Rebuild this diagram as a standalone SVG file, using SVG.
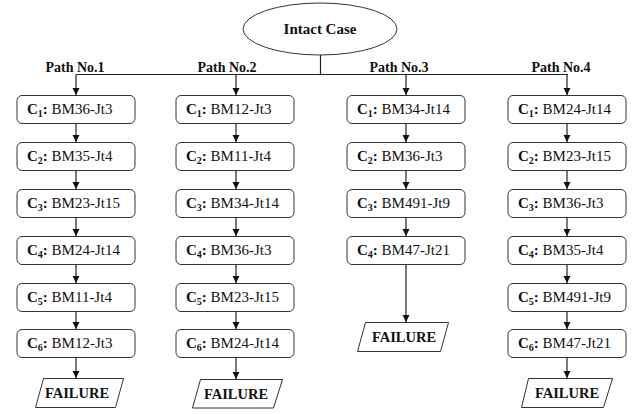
<svg xmlns="http://www.w3.org/2000/svg" width="636" height="414" viewBox="0 0 636 414" font-family="'Liberation Serif', 'Times New Roman', Times, 'DejaVu Serif', serif">
<style>
.box{fill:#fff;stroke:#333;stroke-width:1}
.fail{fill:#fff;stroke:#333;stroke-width:1}
.ln{stroke:#222;stroke-width:1.2;fill:none}
text{font-family:'Liberation Serif','Times New Roman',Times,'DejaVu Serif',serif}
.t{font-size:15px;fill:#111}
.b{font-weight:bold}
.sub{font-size:10px;font-weight:bold}
.lbl{font-size:14px;font-weight:bold;fill:#111}
.ft{font-size:14.5px;font-weight:bold;fill:#111}
</style>
<defs>
<marker id="ah" markerUnits="userSpaceOnUse" markerWidth="7" markerHeight="8" refX="7" refY="3.5" orient="auto">
<path d="M0,0 L7,3.5 L0,7 z" fill="#111"/>
</marker>
</defs>
<rect width="636" height="414" fill="#fff"/>
<g id="intact">
<ellipse cx="320" cy="29" rx="77" ry="26" fill="#fff" stroke="#333" stroke-width="1"/>
<text x="320" y="34" text-anchor="middle" class="t b" font-size="16">Intact Case</text>
</g>
<g id="labels">
<text x="75" y="72" text-anchor="middle" class="lbl">Path No.1</text>
<text x="227" y="72" text-anchor="middle" class="lbl">Path No.2</text>
<text x="399" y="72" text-anchor="middle" class="lbl">Path No.3</text>
<text x="561" y="72" text-anchor="middle" class="lbl">Path No.4</text>
</g>
<g id="connectors">
<path class="ln" d="M320.5,55 V74.5 M76,74.5 H568"/>
<path class="ln" marker-end="url(#ah)" d="M76,74.5 V95"/>
<path class="ln" marker-end="url(#ah)" d="M236,74.5 V95"/>
<path class="ln" marker-end="url(#ah)" d="M406,74.5 V95"/>
<path class="ln" marker-end="url(#ah)" d="M567,74.5 V95"/>
<path class="ln" marker-end="url(#ah)" d="M76,123 V142"/>
<path class="ln" marker-end="url(#ah)" d="M76,171 V189"/>
<path class="ln" marker-end="url(#ah)" d="M76,218 V236"/>
<path class="ln" marker-end="url(#ah)" d="M76,265 V283"/>
<path class="ln" marker-end="url(#ah)" d="M76,312 V329"/>
<path class="ln" marker-end="url(#ah)" d="M76,358 V378"/>
<path class="ln" marker-end="url(#ah)" d="M236,123 V142"/>
<path class="ln" marker-end="url(#ah)" d="M236,171 V189"/>
<path class="ln" marker-end="url(#ah)" d="M236,218 V236"/>
<path class="ln" marker-end="url(#ah)" d="M236,265 V283"/>
<path class="ln" marker-end="url(#ah)" d="M236,312 V329"/>
<path class="ln" marker-end="url(#ah)" d="M236,358 V379"/>
<path class="ln" marker-end="url(#ah)" d="M406,123 V142"/>
<path class="ln" marker-end="url(#ah)" d="M406,171 V189"/>
<path class="ln" marker-end="url(#ah)" d="M406,218 V236"/>
<path class="ln" marker-end="url(#ah)" d="M406,265 V322"/>
<path class="ln" marker-end="url(#ah)" d="M567,123 V142"/>
<path class="ln" marker-end="url(#ah)" d="M567,171 V189"/>
<path class="ln" marker-end="url(#ah)" d="M567,218 V236"/>
<path class="ln" marker-end="url(#ah)" d="M567,265 V283"/>
<path class="ln" marker-end="url(#ah)" d="M567,312 V329"/>
<path class="ln" marker-end="url(#ah)" d="M567,358 V378"/>
</g>
<g id="p1c1"><rect class="box" x="17" y="95.5" width="118" height="28" rx="5"/><text x="27" y="114" class="t"><tspan class="b">C</tspan><tspan class="sub" dy="3">1</tspan><tspan class="b" dy="-3">:</tspan> BM36-Jt3</text></g>
<g id="p1c2"><rect class="box" x="17" y="142.5" width="118" height="28" rx="5"/><text x="27" y="161" class="t"><tspan class="b">C</tspan><tspan class="sub" dy="3">2</tspan><tspan class="b" dy="-3">:</tspan> BM35-Jt4</text></g>
<g id="p1c3"><rect class="box" x="17" y="189.5" width="118" height="28" rx="5"/><text x="27" y="208" class="t"><tspan class="b">C</tspan><tspan class="sub" dy="3">3</tspan><tspan class="b" dy="-3">:</tspan> BM23-Jt15</text></g>
<g id="p1c4"><rect class="box" x="17" y="236.5" width="118" height="28" rx="5"/><text x="27" y="255" class="t"><tspan class="b">C</tspan><tspan class="sub" dy="3">4</tspan><tspan class="b" dy="-3">:</tspan> BM24-Jt14</text></g>
<g id="p1c5"><rect class="box" x="17" y="283.5" width="118" height="28" rx="5"/><text x="27" y="302" class="t"><tspan class="b">C</tspan><tspan class="sub" dy="3">5</tspan><tspan class="b" dy="-3">:</tspan> BM11-Jt4</text></g>
<g id="p1c6"><rect class="box" x="17" y="329.5" width="118" height="28" rx="5"/><text x="27" y="348" class="t"><tspan class="b">C</tspan><tspan class="sub" dy="3">6</tspan><tspan class="b" dy="-3">:</tspan> BM12-Jt3</text></g>
<g id="p1f"><path class="fail" d="M43.5,378.5 H123.5 L115.5,407.5 H35.5 Z"/><text x="77" y="398" text-anchor="middle" class="ft">FAILURE</text></g>
<g id="p2c1"><rect class="box" x="176" y="95.5" width="118" height="28" rx="5"/><text x="186" y="114" class="t"><tspan class="b">C</tspan><tspan class="sub" dy="3">1</tspan><tspan class="b" dy="-3">:</tspan> BM12-Jt3</text></g>
<g id="p2c2"><rect class="box" x="176" y="142.5" width="118" height="28" rx="5"/><text x="186" y="161" class="t"><tspan class="b">C</tspan><tspan class="sub" dy="3">2</tspan><tspan class="b" dy="-3">:</tspan> BM11-Jt4</text></g>
<g id="p2c3"><rect class="box" x="176" y="189.5" width="118" height="28" rx="5"/><text x="186" y="208" class="t"><tspan class="b">C</tspan><tspan class="sub" dy="3">3</tspan><tspan class="b" dy="-3">:</tspan> BM34-Jt14</text></g>
<g id="p2c4"><rect class="box" x="176" y="236.5" width="118" height="28" rx="5"/><text x="186" y="255" class="t"><tspan class="b">C</tspan><tspan class="sub" dy="3">4</tspan><tspan class="b" dy="-3">:</tspan> BM36-Jt3</text></g>
<g id="p2c5"><rect class="box" x="176" y="283.5" width="118" height="28" rx="5"/><text x="186" y="302" class="t"><tspan class="b">C</tspan><tspan class="sub" dy="3">5</tspan><tspan class="b" dy="-3">:</tspan> BM23-Jt15</text></g>
<g id="p2c6"><rect class="box" x="176" y="329.5" width="118" height="28" rx="5"/><text x="186" y="348" class="t"><tspan class="b">C</tspan><tspan class="sub" dy="3">6</tspan><tspan class="b" dy="-3">:</tspan> BM24-Jt14</text></g>
<g id="p2f"><path class="fail" d="M200.5,379.5 H282.5 L273.5,408 H192.5 Z"/><text x="236" y="399" text-anchor="middle" class="ft">FAILURE</text></g>
<g id="p3c1"><rect class="box" x="347" y="95.5" width="118" height="28" rx="5"/><text x="357" y="114" class="t"><tspan class="b">C</tspan><tspan class="sub" dy="3">1</tspan><tspan class="b" dy="-3">:</tspan> BM34-Jt14</text></g>
<g id="p3c2"><rect class="box" x="347" y="142.5" width="118" height="28" rx="5"/><text x="357" y="161" class="t"><tspan class="b">C</tspan><tspan class="sub" dy="3">2</tspan><tspan class="b" dy="-3">:</tspan> BM36-Jt3</text></g>
<g id="p3c3"><rect class="box" x="347" y="189.5" width="118" height="28" rx="5"/><text x="357" y="208" class="t"><tspan class="b">C</tspan><tspan class="sub" dy="3">3</tspan><tspan class="b" dy="-3">:</tspan> BM491-Jt9</text></g>
<g id="p3c4"><rect class="box" x="347" y="236.5" width="118" height="28" rx="5"/><text x="357" y="255" class="t"><tspan class="b">C</tspan><tspan class="sub" dy="3">4</tspan><tspan class="b" dy="-3">:</tspan> BM47-Jt21</text></g>
<g id="p3f"><path class="fail" d="M365.5,322.5 H448.5 L440.5,351.5 H357.5 Z"/><text x="404" y="342" text-anchor="middle" class="ft">FAILURE</text></g>
<g id="p4c1"><rect class="box" x="508" y="95.5" width="118" height="28" rx="5"/><text x="518" y="114" class="t"><tspan class="b">C</tspan><tspan class="sub" dy="3">1</tspan><tspan class="b" dy="-3">:</tspan> BM24-Jt14</text></g>
<g id="p4c2"><rect class="box" x="508" y="142.5" width="118" height="28" rx="5"/><text x="518" y="161" class="t"><tspan class="b">C</tspan><tspan class="sub" dy="3">2</tspan><tspan class="b" dy="-3">:</tspan> BM23-Jt15</text></g>
<g id="p4c3"><rect class="box" x="508" y="189.5" width="118" height="28" rx="5"/><text x="518" y="208" class="t"><tspan class="b">C</tspan><tspan class="sub" dy="3">3</tspan><tspan class="b" dy="-3">:</tspan> BM36-Jt3</text></g>
<g id="p4c4"><rect class="box" x="508" y="236.5" width="118" height="28" rx="5"/><text x="518" y="255" class="t"><tspan class="b">C</tspan><tspan class="sub" dy="3">4</tspan><tspan class="b" dy="-3">:</tspan> BM35-Jt4</text></g>
<g id="p4c5"><rect class="box" x="508" y="283.5" width="118" height="28" rx="5"/><text x="518" y="302" class="t"><tspan class="b">C</tspan><tspan class="sub" dy="3">5</tspan><tspan class="b" dy="-3">:</tspan> BM491-Jt9</text></g>
<g id="p4c6"><rect class="box" x="508" y="329.5" width="118" height="28" rx="5"/><text x="518" y="348" class="t"><tspan class="b">C</tspan><tspan class="sub" dy="3">6</tspan><tspan class="b" dy="-3">:</tspan> BM47-Jt21</text></g>
<g id="p4f"><path class="fail" d="M528.5,378.5 H612.5 L603.5,407.5 H521.5 Z"/><text x="567" y="398" text-anchor="middle" class="ft">FAILURE</text></g>
</svg>
